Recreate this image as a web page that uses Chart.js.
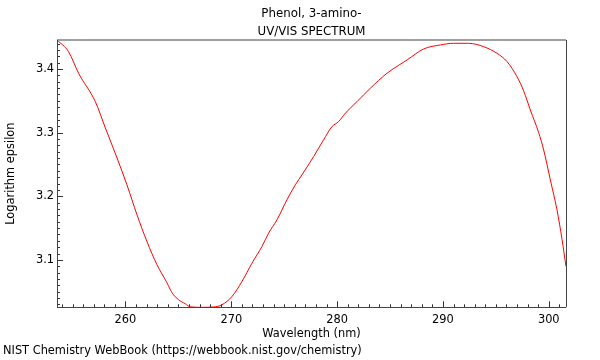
<!DOCTYPE html>
<html>
<head>
<meta charset="utf-8">
<script src="https://cdn.jsdelivr.net/npm/chart.js@4"></script>
<style>
html,body{margin:0;padding:0;background:#fff;}
#wrap{width:600px;height:360px;position:relative;}
</style>
</head>
<body>
<div id="wrap"><canvas id="c" width="600" height="360"></canvas></div>
<script>
const titleLines = ["Phenol, 3-amino-", "UV/VIS SPECTRUM"];
const xAxisTitle = "Wavelength (nm)";
const yAxisTitle = "Logarithm epsilon";
const footerText = "NIST Chemistry WebBook (https://webbook.nist.gov/chemistry)";

const wavelengths = [253.53, 254.62, 255.57, 257.15, 258.10, 259.20, 260.14, 261.09, 262.03, 262.98,
  263.92, 264.40, 265.02, 265.65, 266.12, 267.2, 268.33, 269.12, 270.07, 271.01, 271.96, 272.90,
  273.53, 274.32, 275.26, 276.05, 276.68, 277.78, 278.72, 279.52, 280.14, 280.78, 281.88, 283.14,
  284.72, 286.61, 288.18, 289.75, 291.01, 292.43, 293.85, 295.11, 296.06, 297.00, 297.63, 298.26,
  299.04, 299.52, 300.15, 300.78, 301.26, 301.63];
const logEpsilon = [3.4455, 3.4272, 3.3932, 3.3487, 3.3074, 3.2603, 3.2179, 3.1708, 3.1289, 3.0923,
  3.0641, 3.0484, 3.0374, 3.0311, 3.0262, 3.0255, 3.0260, 3.0295, 3.0425, 3.0661, 3.0950, 3.1211,
  3.1421, 3.1630, 3.1944, 3.2179, 3.2336, 3.2623, 3.2885, 3.3094, 3.3173, 3.3305, 3.3487, 3.3697,
  3.3933, 3.4141, 3.4314, 3.4377, 3.4403, 3.4403, 3.4350, 3.4246, 3.4115, 3.3879, 3.3655, 3.3356,
  3.3003, 3.2728, 3.2257, 3.1786, 3.1316, 3.0896];

const xMajorTicks = [260, 270, 280, 290, 300];
const yMajorTicks = [3.1, 3.2, 3.3, 3.4];

const FONT = "DejaVu Sans";

const framePlugin = {
  id: 'frame',
  afterDraw(chart) {
    const ctx = chart.ctx;
    const a = chart.chartArea;
    const xs = chart.scales.x, ys = chart.scales.y;
    ctx.save();
    ctx.strokeStyle = '#333';
    ctx.lineWidth = 1;
    ctx.beginPath();
    for (let v = Math.ceil(xs.min); v <= xs.max; v += 1) {
      const px = Math.round(xs.getPixelForValue(v)) + 0.5;
      const len = (v % 10 === 0) ? 6 : 3;
      ctx.moveTo(px, a.bottom);
      ctx.lineTo(px, a.bottom - len);
    }
    for (let i = Math.ceil(ys.min * 100); i <= Math.floor(ys.max * 100); i++) {
      const py = Math.round(ys.getPixelForValue(i / 100)) + 0.5;
      const len = (i % 10 === 0) ? 6 : 3;
      ctx.moveTo(a.left, py);
      ctx.lineTo(a.left + len, py);
    }
    ctx.stroke();
    ctx.strokeStyle = '#a0a0a0';
    ctx.lineWidth = 2;
    ctx.beginPath();
    ctx.moveTo(a.left, a.top);
    ctx.lineTo(a.right, a.top);
    ctx.stroke();
    ctx.strokeStyle = '#444';
    ctx.lineWidth = 1;
    ctx.beginPath();
    ctx.moveTo(Math.round(a.right) + 0.5, a.top);
    ctx.lineTo(Math.round(a.right) + 0.5, a.bottom);
    ctx.moveTo(Math.round(a.left) + 0.5, a.top);
    ctx.lineTo(Math.round(a.left) + 0.5, a.bottom);
    ctx.moveTo(a.left, Math.round(a.bottom) + 0.5);
    ctx.lineTo(a.right, Math.round(a.bottom) + 0.5);
    ctx.stroke();
    ctx.fillStyle = '#000';
    ctx.textAlign = 'center';
    ctx.textBaseline = 'middle';
    const cx = (a.left + a.right) / 2;
    ctx.font = '11.8px "' + FONT + '"';
    ctx.fillText(titleLines[0], cx, 14);
    ctx.fillText(titleLines[1], cx, 32);
    ctx.font = '11.4px "' + FONT + '"';
    ctx.fillText(xAxisTitle, cx, 334);
    ctx.save();
    ctx.translate(11, (a.top + a.bottom) / 2);
    ctx.rotate(-Math.PI / 2);
    ctx.fillText(yAxisTitle, 0, 0);
    ctx.restore();
    ctx.textAlign = 'left';
    ctx.fillText(footerText, 3, 351);
    ctx.restore();
  }
};

new Chart(document.getElementById('c'), {
  type: 'scatter',
  data: {
    datasets: [{
      data: wavelengths.map((w, i) => ({x: w, y: logEpsilon[i]})),
      showLine: true,
      borderColor: '#ff0000',
      borderWidth: 1,
      pointRadius: 0,
      cubicInterpolationMode: 'monotone',
      fill: false
    }]
  },
  options: {
    responsive: false,
    animation: false,
    devicePixelRatio: 1,
    layout: {padding: {top: 40, right: 34, left: 0, bottom: 0}},
    plugins: {legend: {display: false}, title: {display: false}, tooltip: {enabled: false}},
    scales: {
      x: {
        type: 'linear',
        min: 253.53, max: 301.63,
        grid: {display: false, drawTicks: false},
        border: {display: false},
        afterFit: s => { s.height = 52.7; },
        afterBuildTicks: s => { s.ticks = xMajorTicks.map(v => ({value: v})); },
        ticks: {
          padding: 6,
          color: '#000',
          font: {family: FONT, size: 11.4},
          maxRotation: 0,
          callback: v => String(v)
        }
      },
      y: {
        type: 'linear',
        min: 3.0255, max: 3.4455,
        grid: {display: false, drawTicks: false},
        border: {display: false},
        afterFit: s => { s.width = 57; },
        afterBuildTicks: s => { s.ticks = yMajorTicks.map(v => ({value: v})); },
        ticks: {
          padding: 3,
          color: '#000',
          font: {family: FONT, size: 11.4},
          callback: v => Number(v).toFixed(1)
        }
      }
    }
  },
  plugins: [framePlugin]
});
</script>
</body>
</html>
